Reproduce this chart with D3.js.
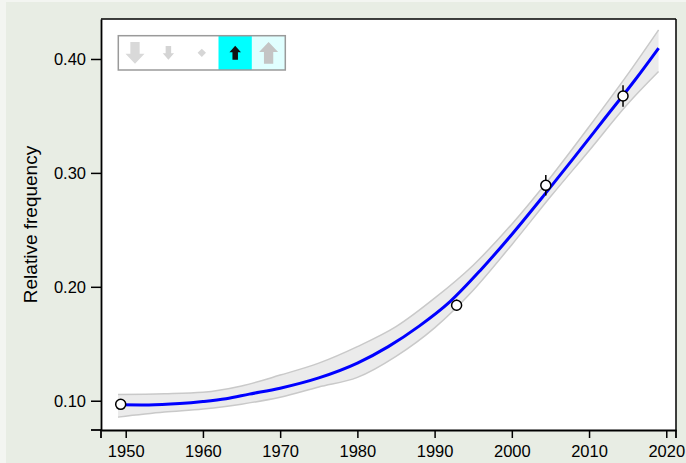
<!DOCTYPE html>
<html>
<head>
<meta charset="utf-8">
<script src="https://cdn.jsdelivr.net/npm/d3@7"></script>
<style>
  html, body { margin: 0; padding: 0; background: #f3f5f1; }
  svg { display: block; }
  text { font-family: "Liberation Sans", Arial, Helvetica, sans-serif; fill: #000; }
</style>
</head>
<body>
<svg id="chart" width="686" height="463"></svg>
<script>
// ---- data ----
const xTicks = [1950, 1960, 1970, 1980, 1990, 2000, 2010, 2020];
const yTicks = [0.10, 0.20, 0.30, 0.40];
const yLabel = "Relative frequency";

// fitted curve
const fitYears  = [1949.4, 1953, 1957, 1960, 1963, 1966, 1970, 1975, 1980, 1984, 1988, 1992, 1996, 2000, 2004, 2008, 2012, 2016, 2019];
const fitValues = [0.0965, 0.0963, 0.0975, 0.0993, 0.1018, 0.1058, 0.1110, 0.1200, 0.1330, 0.1475, 0.1655, 0.1870, 0.2150, 0.2460, 0.2790, 0.3130, 0.3475, 0.3820, 0.4095];

// confidence band
const bandYears = [1949.0, 1955, 1960, 1965, 1970, 1975, 1980, 1985, 1990, 1995, 2000, 2005, 2010, 2015, 2019];
const bandLower = [0.0856, 0.0900, 0.0928, 0.0970, 0.1030, 0.1120, 0.1205, 0.1390, 0.1640, 0.1970, 0.2370, 0.2790, 0.3195, 0.3605, 0.3890];
const bandUpper = [0.1055, 0.1062, 0.1075, 0.1130, 0.1225, 0.1330, 0.1475, 0.1650, 0.1900, 0.2190, 0.2550, 0.2960, 0.3405, 0.3865, 0.4255];

// observed points with error
const obsYears  = [1949.35, 1992.85, 2004.4, 2014.4];
const obsValues = [0.0968, 0.1838, 0.2891, 0.3675];
const obsErrors = [0.0025, 0.0050, 0.0090, 0.0095];

// legend cells
const legendIcons = ["bigDown", "smallDown", "diamond", "smallUp", "bigUp"];
const legendFills = ["#ffffff", "#ffffff", "#ffffff", "#00ffff", "#e0ffff"];
const legendIconColors = ["#d9d9d9", "#d4d4d4", "#d6d6d6", "#111111", "#c4c4c4"];

// ---- layout ----
const svg = d3.select("#chart");
const frame = { left: 101, top: 19, right: 676, bottom: 430 };

svg.append("rect").attr("x", 6).attr("y", 2).attr("width", 680).attr("height", 461).attr("fill", "#e8ede4");
svg.append("rect").attr("x", frame.left).attr("y", frame.top)
  .attr("width", frame.right - frame.left).attr("height", frame.bottom - frame.top).attr("fill", "#ffffff");

const x = d3.scaleLinear().domain([1946.8, 2021.26]).range([frame.left, frame.right]);
const y = d3.scaleLinear().domain([0.0743, 0.4351]).range([frame.bottom, frame.top]);

// band
const bandData = bandYears.map((yr, i) => ({ yr, lo: bandLower[i], hi: bandUpper[i] }));
svg.append("path").datum(bandData)
  .attr("fill", "#ebebeb")
  .attr("d", d3.area().x(d => x(d.yr)).y0(d => y(d.lo)).y1(d => y(d.hi)).curve(d3.curveMonotoneX));
["lo", "hi"].forEach(k => {
  svg.append("path").datum(bandData)
    .attr("fill", "none").attr("stroke", "#c9c9c9").attr("stroke-width", 1.5)
    .attr("d", d3.line().x(d => x(d.yr)).y(d => y(d[k])).curve(d3.curveMonotoneX));
});

// fit line
const fitData = fitYears.map((yr, i) => ({ yr, v: fitValues[i] }));
svg.append("path").datum(fitData)
  .attr("fill", "none").attr("stroke", "#0000ff").attr("stroke-width", 3)
  .attr("d", d3.line().x(d => x(d.yr)).y(d => y(d.v)).curve(d3.curveMonotoneX));

// error bars + points
const obs = obsYears.map((yr, i) => ({ yr, v: obsValues[i], e: obsErrors[i] }));
svg.append("g").selectAll("line").data(obs).join("line")
  .attr("x1", d => x(d.yr)).attr("x2", d => x(d.yr))
  .attr("y1", d => y(d.v - d.e)).attr("y2", d => y(d.v + d.e))
  .attr("stroke", "#000").attr("stroke-width", 1.5);
svg.append("g").selectAll("circle").data(obs).join("circle")
  .attr("cx", d => x(d.yr)).attr("cy", d => y(d.v)).attr("r", 5)
  .attr("fill", "#fff").attr("stroke", "#000").attr("stroke-width", 1.5);

// frame: top and right
svg.append("line").attr("x1", frame.left).attr("x2", frame.right).attr("y1", frame.top).attr("y2", frame.top)
  .attr("stroke", "#000").attr("stroke-width", 1.5);
svg.append("line").attr("x1", frame.right).attr("x2", frame.right).attr("y1", frame.top).attr("y2", frame.bottom)
  .attr("stroke", "#000").attr("stroke-width", 1.5);

// axes
const xAxis = d3.axisBottom(x).tickValues(xTicks).tickFormat(d3.format("d")).tickSize(8).tickPadding(7).tickSizeOuter(0);
const gx = svg.append("g").attr("transform", `translate(0,${frame.bottom})`).call(xAxis);
const yAxis = d3.axisLeft(y).tickValues(yTicks).tickFormat(d3.format(".2f")).tickSize(10).tickPadding(5).tickSizeOuter(0);
const gy = svg.append("g").attr("transform", `translate(${frame.left},0)`).call(yAxis);
[gx, gy].forEach(g => {
  g.selectAll("path.domain").attr("stroke", "#000").attr("stroke-width", 1.8);
  g.selectAll(".tick line").attr("stroke", "#000").attr("stroke-width", 1.5);
  g.selectAll(".tick text").attr("font-size", 16.5).attr("font-family", '"Liberation Sans", Arial, sans-serif');
});
// axis end ticks (frame corners)
gx.append("line").attr("x1", x.range()[0]).attr("x2", x.range()[0]).attr("y1", 0).attr("y2", 8).attr("stroke", "#000").attr("stroke-width", 1.8);
gx.append("line").attr("x1", x.range()[1]).attr("x2", x.range()[1]).attr("y1", 0).attr("y2", 8).attr("stroke", "#000").attr("stroke-width", 1.8);
gy.append("line").attr("x1", -10).attr("x2", 0).attr("y1", y.range()[0]).attr("y2", y.range()[0]).attr("stroke", "#000").attr("stroke-width", 1.8);

// y label
svg.append("text")
  .attr("transform", `translate(37,${(frame.top + frame.bottom) / 2}) rotate(-90)`)
  .attr("text-anchor", "middle").attr("font-size", 19).text(yLabel);

// legend
const lg = { x: 118.3, y: 35.7, w: 167, h: 34.3 };
const cellW = lg.w / legendIcons.length;
const legend = svg.append("g");
legend.selectAll("rect.cell").data(legendFills).join("rect")
  .attr("class", "cell")
  .attr("x", (d, i) => lg.x + i * cellW).attr("y", lg.y)
  .attr("width", cellW).attr("height", lg.h).attr("fill", d => d);
legend.append("rect").attr("x", lg.x).attr("y", lg.y).attr("width", lg.w).attr("height", lg.h)
  .attr("fill", "none").attr("stroke", "#9a9a9a").attr("stroke-width", 1.5);

function arrowPath(w, h, s, hh, dir) {
  // pointing down when dir = 1, up when dir = -1; centered at 0,0
  const t = -h / 2 * dir, b = h / 2 * dir, hb = b - hh * dir;
  return `M${-s/2},${t} L${s/2},${t} L${s/2},${hb} L${w/2},${hb} L0,${b} L${-w/2},${hb} L${-s/2},${hb} Z`;
}
const iconPaths = {
  bigDown: arrowPath(19, 21.6, 9.3, 10, 1),
  smallDown: arrowPath(11.3, 13.6, 5.5, 6.3, 1),
  diamond: "M0,-4.2 L4.2,0 L0,4.2 L-4.2,0 Z",
  smallUp: arrowPath(11.5, 14, 5.5, 6.5, -1),
  bigUp: arrowPath(19, 21.6, 9.3, 10, -1)
};
legend.selectAll("path.icon").data(legendIcons).join("path")
  .attr("class", "icon")
  .attr("transform", (d, i) => `translate(${lg.x + (i + 0.5) * cellW},${lg.y + lg.h / 2})`)
  .attr("d", d => iconPaths[d])
  .attr("fill", (d, i) => legendIconColors[i]);
</script>
</body>
</html>
